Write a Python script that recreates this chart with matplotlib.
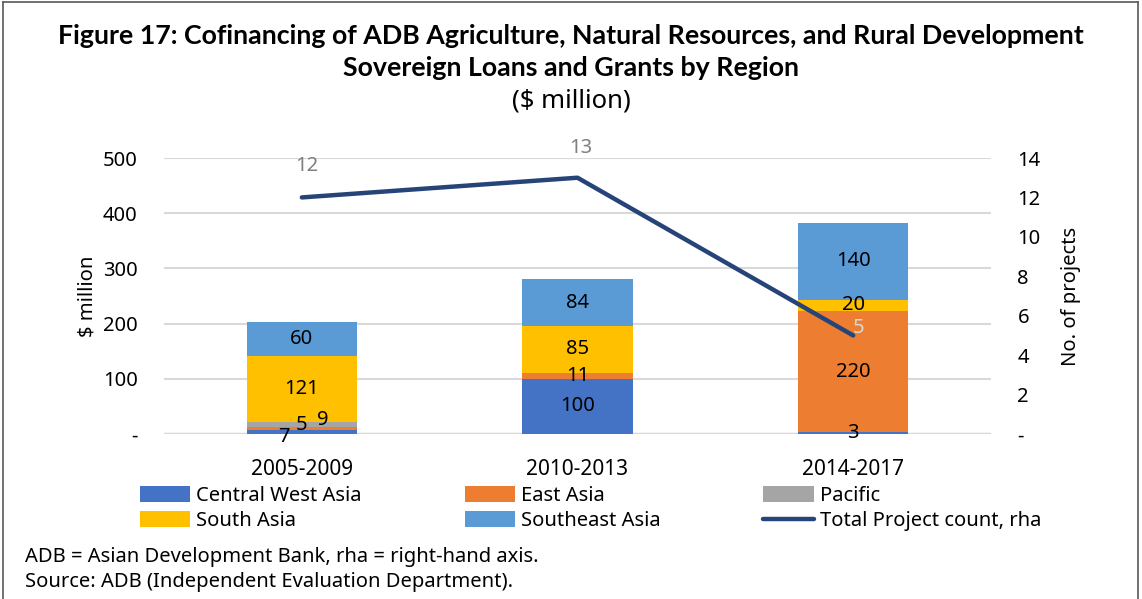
import matplotlib
matplotlib.use("Agg")
import matplotlib.pyplot as plt
from matplotlib.lines import Line2D
import numpy as np

plt.rcParams['font.family'] = ['Noto Sans', 'DejaVu Sans']

periods = ["2005-2009", "2010-2013", "2014-2017"]
central_west_asia = [7, 100, 3]
east_asia = [5, 11, 220]
pacific = [9, 0, 0]
south_asia = [121, 85, 20]
southeast_asia = [60, 84, 140]
project_count = [12, 13, 5]

series = [
    ("Central West Asia", central_west_asia, "#4472C4"),
    ("East Asia", east_asia, "#ED7D31"),
    ("Pacific", pacific, "#A5A5A5"),
    ("South Asia", south_asia, "#FFC000"),
    ("Southeast Asia", southeast_asia, "#5B9BD5"),
]

fig = plt.figure(figsize=(11.42, 5.99), dpi=100)
W, H = 1142, 599
ax = fig.add_axes([164 / W, 1 - 434 / H, (991 - 164) / W, (434 - 158) / H])
ax2 = ax.twinx()

x = np.arange(len(periods))
bottom = np.zeros(len(periods))
handles = {}
fs = 14.5
# per-label pixel offsets for the small first-bar labels (style only)
small_offsets = {(0, 0): (-18, -5), (0, 1): (0, 4), (0, 2): (21, 5)}
for si, (name, vals, col) in enumerate(series):
    vals = np.array(vals, dtype=float)
    bars = ax.bar(x, vals, 0.4, bottom=bottom, color=col, zorder=2)
    handles[name] = bars
    for i, v in enumerate(vals):
        if v <= 0:
            continue
        cy = bottom[i] + v / 2
        dx, dy = small_offsets.get((i, si), (0, 0))
        ax.annotate(f"{int(v)}", (x[i], cy), xytext=(dx * 0.72, dy * 0.72),
                    textcoords="offset points", ha="center", va="center",
                    fontsize=fs, color="black", zorder=5)
    bottom += vals

ax.set_xlim(-0.5, 2.5)
ax.set_ylim(0, 500)
ax.set_yticks([0, 100, 200, 300, 400, 500])
ax.set_yticklabels(["-", "100", "200", "300", "400", "500"])
ax.yaxis.grid(True, color="#D9D9D9", linewidth=1.5, zorder=0)
ax.set_axisbelow(True)
for s in ax.spines.values():
    s.set_visible(False)
for s in ax2.spines.values():
    s.set_visible(False)
ax.axhline(0, color="#D9D9D9", linewidth=2.5, zorder=1)
ax.tick_params(axis="y", length=0, labelsize=fs, pad=19)
ax.set_xticks(x)
ax.set_xticklabels(periods)
ax.tick_params(axis="x", length=0, labelsize=fs + 0.5, pad=18)
ax.set_ylabel("$ million", fontsize=fs, labelpad=4)

line, = ax2.plot(x, project_count, color="#264478", linewidth=3.2,
                 solid_capstyle="round", zorder=4)
ax2.set_ylim(0, 14)
ax2.set_yticks(range(0, 15, 2))
ax2.set_yticklabels(["-"] + [str(v) for v in range(2, 15, 2)])
ax2.tick_params(axis="y", length=0, labelsize=fs, pad=19)
ax2.set_ylabel("No. of projects", fontsize=fs, labelpad=15)
lab_off = [(5, 31), (3, 30), (5, 7)]
lab_col = ["#7F7F7F", "#7F7F7F", "#D9D9D9"]
for i, v in enumerate(project_count):
    dx, dy = lab_off[i]
    ax2.annotate(f"{v}", (x[i], v), xytext=(dx * 0.72, dy * 0.72),
                 textcoords="offset points", ha="center", va="center",
                 fontsize=fs, color=lab_col[i], zorder=6)

# legend (column-major order to read row-wise)
hs = [handles["Central West Asia"], handles["South Asia"], handles["East Asia"],
      handles["Southeast Asia"], handles["Pacific"], line]
ls = ["Central West Asia", "South Asia", "East Asia", "Southeast Asia", "Pacific",
      "Total Project count, rha"]
leg = fig.legend(hs, ls, loc="upper left", bbox_to_anchor=(140 / W, 1 - 486 / H),
                 ncol=3, frameon=False, fontsize=fs, handlelength=2.5,
                 handleheight=0.8, handletextpad=0.3, columnspacing=5.1,
                 labelspacing=0.25, borderaxespad=0, borderpad=0)

# titles
tfam = ['Lato', 'DejaVu Sans']
fig.text(0.5, 1 - 36 / H, "Figure 17: Cofinancing of ADB Agriculture, Natural Resources, and Rural Development",
         ha="center", va="center", fontsize=19.3, fontweight="bold", family=tfam)
fig.text(0.5, 1 - 68 / H, "Sovereign Loans and Grants by Region",
         ha="center", va="center", fontsize=19.3, fontweight="bold", family=tfam)
fig.text(0.5, 1 - 101 / H, "($ million)", ha="center", va="center",
         fontsize=18.5)

fig.text(25 / W, 1 - 557 / H, "ADB = Asian Development Bank, rha = right-hand axis.",
         ha="left", va="center", fontsize=fs)
fig.text(25 / W, 1 - 582 / H, "Source: ADB (Independent Evaluation Department).",
         ha="left", va="center", fontsize=fs)

# figure border
bc = "#595959"
fig.add_artist(Line2D([3 / W, 3 / W], [0, 1 - 2 / H], transform=fig.transFigure, color=bc, lw=1.2))
fig.add_artist(Line2D([3 / W, 1138 / W], [1 - 2 / H, 1 - 2 / H], transform=fig.transFigure, color=bc, lw=1.2))
fig.add_artist(Line2D([1138 / W, 1138 / W], [0, 1 - 2 / H], transform=fig.transFigure, color=bc, lw=1.2))

fig.savefig("out.png", dpi=100)
